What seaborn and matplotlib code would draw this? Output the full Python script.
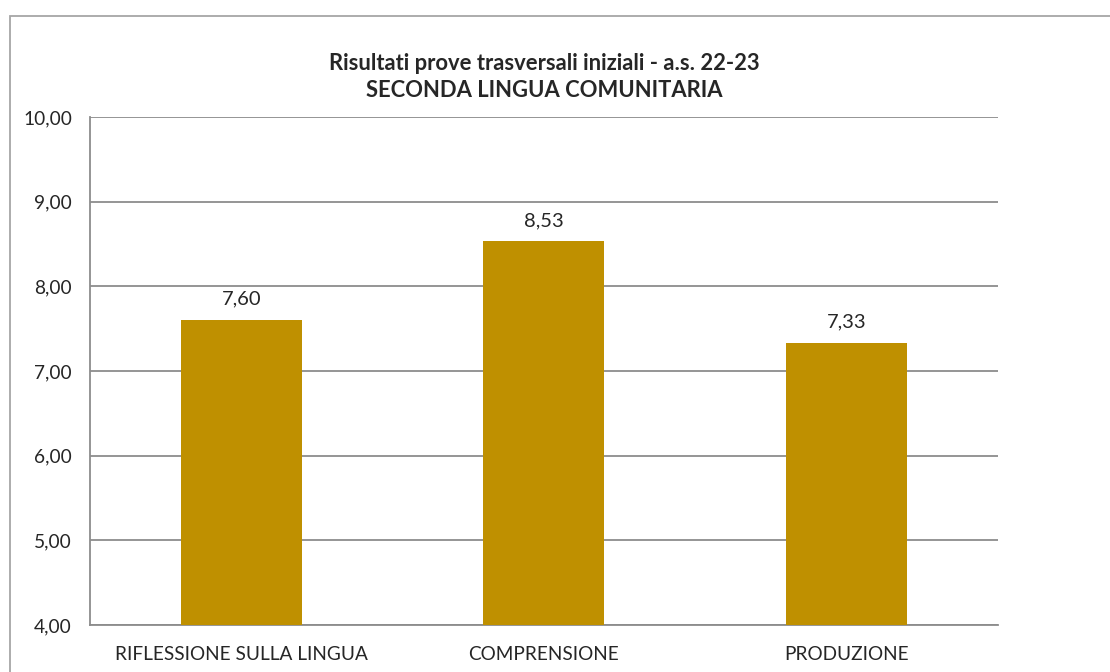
import matplotlib
matplotlib.use("Agg")
import matplotlib.pyplot as plt
import seaborn as sns
import pandas as pd
from matplotlib.patches import Rectangle
from matplotlib.ticker import FixedLocator, FuncFormatter

# dati
categorie = ["RIFLESSIONE SULLA LINGUA", "COMPRENSIONE", "PRODUZIONE"]
valori = [7.60, 8.53, 7.33]
titolo = "Risultati prove trasversali iniziali - a.s. 22-23\nSECONDA LINGUA COMUNITARIA"

df = pd.DataFrame({"categoria": categorie, "valore": valori})

sns.set_style("white")
plt.rcParams["font.family"] = ["Lato", "DejaVu Sans"]

fig = plt.figure(figsize=(11.1, 6.72), dpi=100)
ax = fig.add_axes([0.081, 0.070, 0.818, 0.756])

sns.barplot(data=df, x="categoria", y="valore", color="#BF9000",
            saturation=1, width=0.40, linewidth=0, ax=ax, zorder=3)

ax.set_ylim(4, 10)
ax.set_xlim(-0.5, 2.5)
ax.set_yticks([4, 5, 6, 7, 8, 9, 10])
ax.yaxis.set_major_formatter(FuncFormatter(lambda v, p: f"{v:.2f}".replace(".", ",")))
ax.yaxis.grid(True, color="#8c8c8c", linewidth=1.3, zorder=0)
ax.set_axisbelow(True)
ax.xaxis.set_minor_locator(FixedLocator([-0.5, 0.5, 1.5, 2.5]))
ax.tick_params(axis="x", which="major", length=0, labelsize=13.7, pad=15)
ax.tick_params(axis="x", which="minor", length=6, width=1.3, color="#8c8c8c", direction="out")
ax.tick_params(axis="y", length=7, width=1.3, color="#8c8c8c", labelsize=13.8, pad=6)
ax.set_xlabel("")
ax.set_ylabel("")
for s in ["top", "right"]:
    ax.spines[s].set_visible(False)
for s in ["left", "bottom"]:
    ax.spines[s].set_color("#8c8c8c")
    ax.spines[s].set_linewidth(1.3)

# etichette dei valori
for cont in ax.containers:
    ax.bar_label(cont, labels=[f"{v:.2f}".replace(".", ",") for v in valori],
                 padding=9, fontsize=14.5)

ax.set_title(titolo, fontsize=15.8, fontweight="bold", linespacing=1.36, pad=14)

# cornice del grafico
fig.patches.append(Rectangle((0.009, -0.05), 1.1, 1.026, transform=fig.transFigure,
                             fill=False, edgecolor="#a6a6a6", linewidth=1.3))

fig.savefig("out.png", dpi=100)
